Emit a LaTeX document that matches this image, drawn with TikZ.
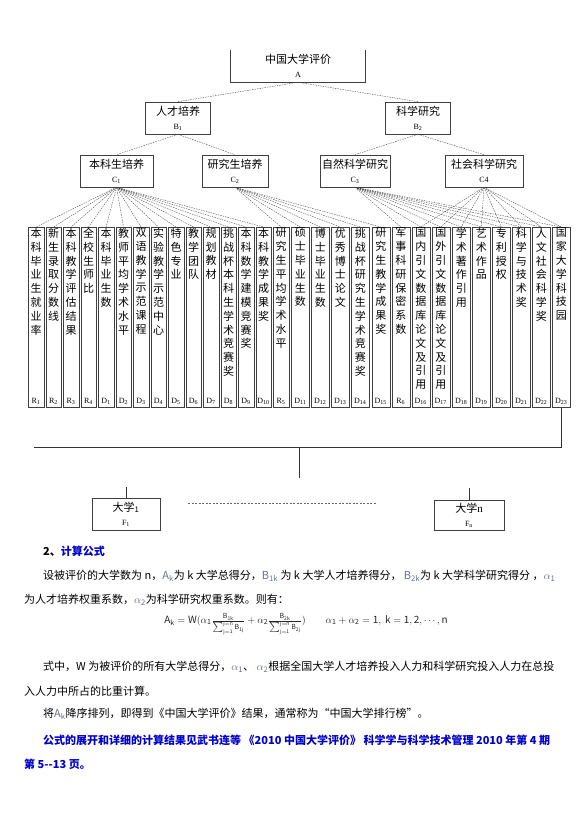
\documentclass[tikz,border=0pt]{standalone}
\usepackage{fontspec}
\setmainfont{Noto Sans CJK SC}
\newfontfamily\labfont{Liberation Serif}
\XeTeXlinebreaklocale "zh"
\XeTeXlinebreakskip=0pt plus 1pt

\definecolor{titleblue}{RGB}{0,0,204}
\definecolor{symgray}{RGB}{105,115,135}

\newcommand{\boxfont}{\fontsize{11}{14}\selectfont}
\newcommand{\leaffont}{\fontsize{11}{13.8}\selectfont\parindent=0pt}
\newcommand{\tagfont}{\labfont\fontsize{8}{8}\selectfont}
\newcommand{\bodyfont}{\fontsize{11}{13}\selectfont}
\newcommand{\varsym}[1]{\textcolor{symgray}{$\mathrm{#1}$}}

\begin{document}
\begin{tikzpicture}[x=1pt,y=-1pt,
  box/.style={draw=black!75, line width=0.6pt, inner sep=0pt, minimum height=32pt, align=center, font=\boxfont},
  leaf/.style={draw=black!75, line width=0.6pt, inner sep=0pt, minimum height=180pt, anchor=north west},
  fan/.style={dash pattern=on 1.5pt off 1pt, line width=0.35pt, black!75},
  link/.style={line width=0.6pt, black!80},
  body/.style={anchor=west, inner sep=0pt, font=\bodyfont}]

  \useasboundingbox (0,0) rectangle (580,838);

  % levels A, B, C
  \node[box, draw=none, minimum width=134pt] (a) at (298,66) {中国大学评价\\{\tagfont A}};
  \draw[link, black!75] (a.north west) |- (a.south east) -- (a.north east);

  \node[box, minimum width=65pt] (b1) at (178,118) {人才培养\\{\tagfont B\textsubscript{1}}};
  \node[box, minimum width=65pt] (b2) at (418,118) {科学研究\\{\tagfont B\textsubscript{2}}};

  \node[box, minimum width=73pt] (c1) at (116.5,171) {本科生培养\\{\tagfont C\textsubscript{1}}};
  \node[box, minimum width=66pt] (c2) at (235,171) {研究生培养\\{\tagfont C\textsubscript{2}}};
  \node[box, minimum width=70pt] (c3) at (355,171) {自然科学研究\\{\tagfont C\textsubscript{3}}};
  \node[box, minimum width=78pt] (c4) at (484,171) {社会科学研究\\{\tagfont C4}};

  \draw[fan] (a.south) -- (b1.north);
  \draw[fan] (a.south) -- (b2.north);
  \draw[fan] (b1.south) -- (c1.north);
  \draw[fan] (b1.south) -- (c2.north);
  \draw[fan] (b2.south) -- (c3.north);
  \draw[fan] (b2.south) -- (c4.north);

  % indicator columns
  \foreach \xx/\tg/\txt [count=\i] in {
    28/R\textsubscript{1}/本科毕业生就业率,
    45.5/R\textsubscript{2}/新生录取分数线,
    63/R\textsubscript{3}/本科教学评估结果,
    80.5/R\textsubscript{4}/全校生师比,
    98/D\textsubscript{1}/本科毕业生数,
    115.5/D\textsubscript{2}/教师平均学术水平,
    133/D\textsubscript{3}/双语教学示范课程,
    150.5/D\textsubscript{4}/实验教学示范中心,
    168/D\textsubscript{5}/特色专业,
    185.5/D\textsubscript{6}/教学团队,
    203/D\textsubscript{7}/规划教材,
    220.5/D\textsubscript{8}/挑战杯本科生学术竞赛奖,
    238/D\textsubscript{9}/本科数学建模竞赛奖,
    255.5/D\textsubscript{10}/本科教学成果奖,
    273/R\textsubscript{5}/研究生平均学术水平,
    291/D\textsubscript{11}/硕士毕业生数,
    311/D\textsubscript{12}/博士毕业生数,
    331/D\textsubscript{13}/优秀博士论文,
    351/D\textsubscript{14}/挑战杯研究生学术竞赛奖,
    371.5/D\textsubscript{15}/研究生教学成果奖,
    391.5/R\textsubscript{6}/军事科研保密系数,
    411.5/D\textsubscript{16}/国内引文数据库论文及引用,
    431.5/D\textsubscript{17}/国外引文数据库论文及引用,
    452/D\textsubscript{18}/学术著作引用,
    472/D\textsubscript{19}/艺术作品,
    492/D\textsubscript{20}/专利授权,
    512/D\textsubscript{21}/科学与技术奖,
    532/D\textsubscript{22}/人文社会科学奖,
    552/D\textsubscript{23}/国家大学科技园}{
    \pgfmathsetmacro\ww{\i<16 ? 15.5 : 18}
    \node[leaf, minimum width=\ww pt] (l\i) at (\xx,227) {};
    \node[anchor=north, inner sep=0pt, text width=12pt, align=center, font=\leaffont]
      at ([yshift=-1pt]l\i.north) {\txt};
    \node[anchor=south, inner sep=0pt, font=\tagfont] at ([yshift=3pt]l\i.south) {\tg};
  }

  \foreach \i in {1,...,14} \draw[fan] (c1.south) -- (l\i.north);
  \foreach \i in {15,...,20} \draw[fan] (c2.south) -- (l\i.north);
  \foreach \i in {21,...,29} \draw[fan] (c3.south) -- (l\i.north);
  \foreach \i in {22,...,29} \draw[fan] (c4.south) -- (l\i.north);

  % universities
  \coordinate (hl) at (34,447);
  \draw[link] (l29.south) |- (hl);
  \coordinate (hm) at (299,447);
  \coordinate (hd) at (299,478);
  \draw[link] (hm) -- (hd);

  \node[box, minimum width=68pt] (f1) at (126,514) {大学\textsubscript{1}\\{\tagfont F\textsubscript{1}}};
  \node[box, minimum width=70pt, minimum height=30pt] (fn) at (469,515) {大学{\labfont n}\\{\tagfont F\textsubscript{n}}};
  \coordinate (f1up) at (126,487);
  \coordinate (fnup) at (469,488);
  \draw[link] (f1up) -- (f1.north);
  \draw[link] (fnup) -- (fn.north);
  \coordinate (gapl) at (188,503);
  \coordinate (gapr) at (377,503);
  \draw[dash pattern=on 2pt off 1.5pt, line width=0.5pt, black!60] (gapl) -- (gapr);

  % formula text
  \node[body] (t0) at (43,551) {\bfseries 2、\textcolor{titleblue}{计算公式}};
  \node[body] (t1) at (43,576) {设被评价的大学数为 n，\varsym{A_k}为 k 大学总得分，\varsym{B_{1k}} 为 k 大学人才培养得分， \varsym{B_{2k}}为 k 大学科学研究得分 ，\varsym{\alpha_1}};
  \node[body] (t2) at (24,600) {为人才培养权重系数，\varsym{\alpha_2}为科学研究权重系数。则有：};
  \node[inner sep=0pt, font=\fontsize{10}{12}\selectfont, text=black!85] (eq) at (306,624)
    {$\mathrm{A_k = W(\alpha_1\frac{B_{1k}}{\sum_{j=1}^{j=n}B_{1j}} + \alpha_2\frac{B_{2k}}{\sum_{j=1}^{j=n}B_{2j}})\qquad \alpha_1+\alpha_2=1,\ k=1,2,\cdots,n}$};
  \node[body] (t3) at (43,667) {式中，W 为被评价的所有大学总得分，\varsym{\alpha_1}、 \varsym{\alpha_2}根据全国大学人才培养投入人力和科学研究投入人力在总投};
  \node[body] (t4) at (24,691) {入人力中所占的比重计算。};
  \node[body] (t5) at (43,714) {将\varsym{A_k}降序排列，即得到《中国大学评价》结果，通常称为“中国大学排行榜”。};
  \node[body, font=\bodyfont\bfseries, text=titleblue] (t6) at (43,740) {公式的展开和详细的计算结果见武书连等 《2010 中国大学评价》 科学学与科学技术管理 2010 年第 4 期};
  \node[body, font=\bodyfont\bfseries, text=titleblue] (t7) at (24,764) {第 5-{}-13 页。};

\end{tikzpicture}
\end{document}
